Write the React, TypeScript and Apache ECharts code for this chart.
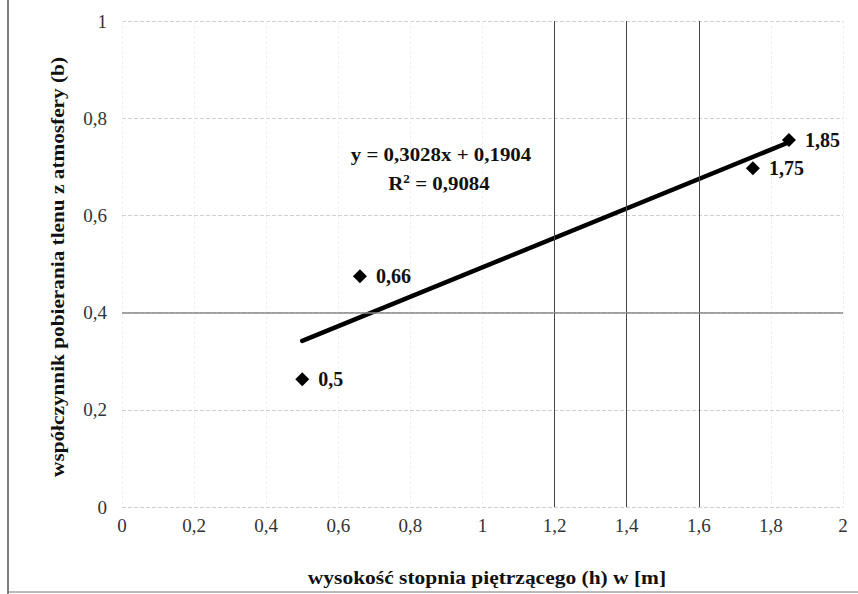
import React, { useEffect, useRef } from "react";
import * as echarts from "echarts";

const xValues = [0.5, 0.66, 1.75, 1.85];
const yValues = [0.263, 0.475, 0.697, 0.755];
const pointLabels = ["0,5", "0,66", "1,75", "1,85"];
const trendSlope = 0.3028;
const trendIntercept = 0.1904;
const trendRange = [0.5, 1.85];
const equationText = "y = 0,3028x + 0,1904";
const r2Value = "0,9084";
const darkXLines = [1.2, 1.4, 1.6];
const darkYLines = [0.4];
const xTitle = "wysokość stopnia piętrzącego (h) w [m]";
const yTitle = "współczynnik pobierania tlenu z atmosfery (b)";

const FONT = "'Liberation Serif', 'Times New Roman', serif";
const fmt = (v: number) => String(Math.round(v * 10) / 10).replace(".", ",");

export default function App() {
  const ref = useRef<HTMLDivElement>(null);
  useEffect(() => {
    if (!ref.current) return;
    const chart = echarts.init(ref.current, undefined, { renderer: "svg" });
    const points = xValues.map((x, i) => [x, yValues[i]]);
    const trend = trendRange.map((x) => [x, trendSlope * x + trendIntercept]);
    chart.setOption({
      animation: false,
      backgroundColor: "#fff",
      grid: { left: 122, right: 15, top: 21, bottom: 87 },
      xAxis: {
        type: "value",
        min: 0,
        max: 2,
        interval: 0.2,
        axisLine: { show: false },
        axisTick: { show: false },
        axisLabel: { formatter: fmt, fontFamily: FONT, fontSize: 19, color: "#333", margin: 9 },
        splitLine: { show: true, lineStyle: { color: "#f0f0f0", type: [3, 2], width: 1 } },
      },
      yAxis: {
        type: "value",
        min: 0,
        max: 1,
        interval: 0.2,
        axisLine: { show: false },
        axisTick: { show: false },
        axisLabel: { formatter: fmt, fontFamily: FONT, fontSize: 19, color: "#333", margin: 15 },
        splitLine: { show: true, lineStyle: { color: "#cfcfcf", type: [4, 2], width: 1 } },
      },
      graphic: [
        { type: "line", shape: { x1: 8, y1: 0, x2: 8, y2: 594 }, style: { stroke: "#555", lineWidth: 1.5 } },
        { type: "line", shape: { x1: 8, y1: 592, x2: 858, y2: 592 }, style: { stroke: "#777", lineWidth: 1 } },
        {
          type: "text",
          x: 57,
          y: 267,
          rotation: Math.PI / 2,
          scaleX: 1.12,
          style: { text: yTitle, font: `bold 19px ${FONT}`, fill: "#111", align: "center", verticalAlign: "middle" },
        },
        {
          type: "text",
          x: 487,
          y: 577,
          scaleX: 1.13,
          style: { text: xTitle, font: `bold 19px ${FONT}`, fill: "#111", align: "center", verticalAlign: "middle" },
        },
        {
          type: "text",
          x: 441,
          y: 154,
          scaleX: 1.1,
          z: 50,
          style: { text: equationText, font: `bold 19px ${FONT}`, fill: "#111", align: "center", verticalAlign: "middle" },
        },
        {
          type: "text",
          x: 439,
          y: 183,
          scaleX: 1.1,
          z: 50,
          style: {
            text: `{a|R}{s|2}{a| = ${r2Value}}`,
            fill: "#111",
            align: "center",
            verticalAlign: "middle",
            rich: {
              a: { fontFamily: FONT, fontWeight: "bold", fontSize: 19, fill: "#111", color: "#111" },
              s: { fontFamily: FONT, fontWeight: "bold", fontSize: 12, fill: "#111", color: "#111", verticalAlign: "top", padding: [0, 0, 8, 0] },
            },
          },
        },
      ],
      series: [
        {
          type: "line",
          data: [],
          markLine: {
            silent: true,
            symbol: "none",
            label: { show: false },
            lineStyle: { color: "#444", type: "solid", width: 1 },
            data: [
              ...darkXLines.map((x) => ({ xAxis: x })),
              ...darkYLines.map((y) => ({ yAxis: y, lineStyle: { color: "#888", width: 1.5 } })),
            ],
          },
        },
        {
          type: "line",
          data: trend,
          symbol: "none",
          lineStyle: { color: "#000", width: 4.5, cap: "round" },
          z: 3,
        },
        {
          type: "scatter",
          data: points,
          symbol: "diamond",
          symbolSize: 14,
          itemStyle: { color: "#000", opacity: 1 },
          z: 4,
          label: {
            show: true,
            position: "right",
            distance: 9,
            formatter: (p: any) => pointLabels[p.dataIndex],
            fontFamily: FONT,
            fontWeight: "bold",
            fontSize: 20,
            color: "#111",
          },
        },
      ],
    });
    return () => chart.dispose();
  }, []);
  return <div ref={ref} style={{ position: "absolute", left: 0, top: 0, width: 858, height: 594 }} />;
}
